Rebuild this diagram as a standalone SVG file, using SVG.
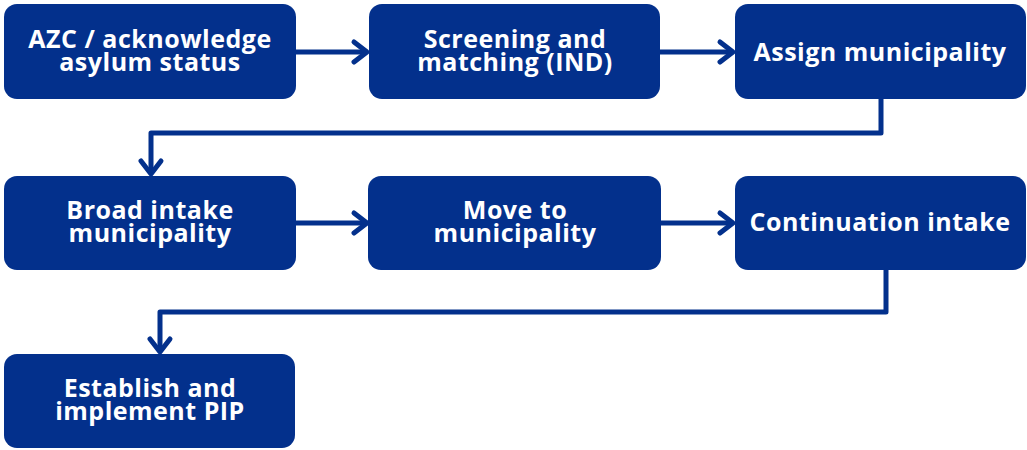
<svg xmlns="http://www.w3.org/2000/svg" width="1027" height="450" viewBox="0 0 1027 450">
<style>
.box{fill:#03308C;}
.t{font-family:"Open Sans",sans-serif;font-weight:700;font-size:25px;letter-spacing:0.5px;fill:#ffffff;text-anchor:middle;}
.c{fill:none;stroke:#03308C;stroke-width:5;stroke-linejoin:round;}
.h{fill:none;stroke:#03308C;stroke-width:5;stroke-linecap:round;stroke-linejoin:round;}
</style>
<rect width="1027" height="450" fill="#ffffff"/>
<g id="connectors">
<path class="c" d="M296 52 H367"/>
<path class="h" d="M354 42 L367 52 L354 62"/>
<path class="c" d="M660 52 H733"/>
<path class="h" d="M720 42 L733 52 L720 62"/>
<path class="c" d="M881 99 V133 H151 V174"/>
<path class="h" d="M141 161 L151 174 L161 161"/>
<path class="c" d="M296 223 H367"/>
<path class="h" d="M354 213 L367 223 L354 233"/>
<path class="c" d="M660 223 H733"/>
<path class="h" d="M720 213 L733 223 L720 233"/>
<path class="c" d="M886 270 V312 H160 V352"/>
<path class="h" d="M150 339 L160 352 L170 339"/>
</g>
<g id="n1"><rect class="box" x="4" y="4" width="292" height="95" rx="13"/><text class="t" x="150" y="48">AZC / acknowledge</text><text class="t" x="150" y="71">asylum status</text></g>
<g id="n2"><rect class="box" x="369" y="4" width="291" height="95" rx="13"/><text class="t" x="515" y="48">Screening and</text><text class="t" x="515" y="71">matching (IND)</text></g>
<g id="n3"><rect class="box" x="735" y="4" width="291" height="95" rx="13"/><text class="t" x="880" y="61">Assign municipality</text></g>
<g id="n4"><rect class="box" x="4" y="176" width="292" height="94" rx="13"/><text class="t" x="150" y="219">Broad intake</text><text class="t" x="150" y="242">municipality</text></g>
<g id="n5"><rect class="box" x="368" y="176" width="293" height="94" rx="13"/><text class="t" x="515" y="219">Move to</text><text class="t" x="515" y="242">municipality</text></g>
<g id="n6"><rect class="box" x="735" y="176" width="291" height="94" rx="13"/><text class="t" x="880" y="231">Continuation intake</text></g>
<g id="n7"><rect class="box" x="4" y="354" width="291" height="94" rx="13"/><text class="t" x="150" y="397">Establish and</text><text class="t" x="150" y="420">implement PIP</text></g>
</svg>
